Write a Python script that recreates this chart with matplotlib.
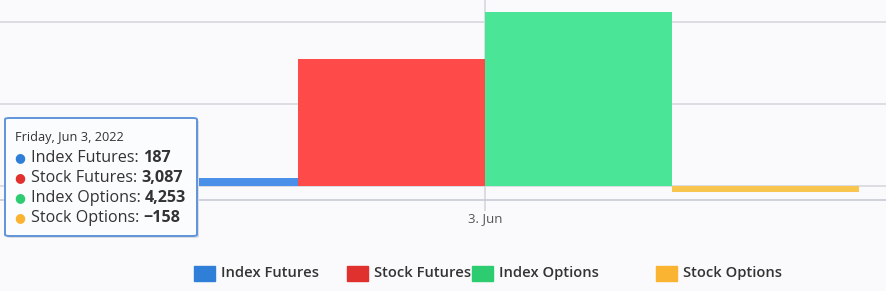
import matplotlib
matplotlib.use("Agg")
import matplotlib.pyplot as plt
from matplotlib.patches import FancyBboxPatch, Rectangle

plt.rcParams['font.family'] = ['Open Sans', 'DejaVu Sans']

series = ['Index Futures', 'Stock Futures', 'Index Options', 'Stock Options']
values = [187, 3087, 4253, -158]
value_labels = ['187', '3,087', '4,253', '\u2212158']
category = '3. Jun'
tooltip_title = 'Friday, Jun 3, 2022'

bar_colors = ['#4a8fe8', '#ff4a4a', '#4be598', '#f8c64e']
legend_colors = ['#2f7ed8', '#e0312f', '#2ecc71', '#fbb332']

W, H = 887, 291
fig = plt.figure(figsize=(W / 100, H / 100), dpi=100)
fig.patch.set_facecolor('#fafafc')

# plot area: full width, top of image down to y=200px
ax = fig.add_axes([0, (H - 200) / H, 1, 200 / H])
ax.set_facecolor('#fafafc')

bw = 1.0
offsets = [-1.5, -0.5, 0.5, 1.5]
for off, v, c in zip(offsets, values, bar_colors):
    ax.bar(off * bw, v, width=bw, color=c, zorder=3, linewidth=0)

# zero at 186px, 2000 per 82px
ppu = 82 / 2000
ax.set_ylim(-(200 - 186) / ppu, 186 / ppu)
ax.set_xlim(-485 / 187, (W - 485) / 187)

for gy in [0, 2000, 4000]:
    ax.axhline(gy, color='#d6d6de', lw=1.2, zorder=1)
ax.axvline(0, color='#d6d6de', lw=1.2, zorder=1)

for s in ['top', 'right', 'left']:
    ax.spines[s].set_visible(False)
ax.spines['bottom'].set_color('#c8ccd8')
ax.spines['bottom'].set_linewidth(1.2)
ax.set_yticks([])
ax.set_xticks([0])
ax.set_xticklabels([category], fontsize=9.5, color='#555555')
ax.tick_params(axis='x', length=8, color='#d6d6de', width=1.2, pad=1)

# legend
leg_x = [194, 347, 472, 656]
for x, name, c in zip(leg_x, series, legend_colors):
    fig.patches.append(Rectangle((x / W, (H - 281) / H), 21 / W, 15 / H,
                                 transform=fig.transFigure, color=c, figure=fig))
    fig.text((x + 27) / W, (H - 273) / H, name, fontsize=10.6, color='#333333',
             fontweight='semibold', va='center', ha='left')

# tooltip
box = FancyBboxPatch((5 / W, (H - 236) / H), 192 / W, 118 / H,
                     boxstyle='round,pad=0,rounding_size=0.005',
                     transform=fig.transFigure, facecolor='#fbfcfe',
                     edgecolor='#5f95d9', linewidth=1.4, zorder=10, figure=fig)
shadow = FancyBboxPatch((7 / W, (H - 238) / H), 192 / W, 118 / H,
                        boxstyle='round,pad=0,rounding_size=0.005',
                        transform=fig.transFigure, facecolor='#dcdce4',
                        edgecolor='none', zorder=9, figure=fig)
fig.patches.append(shadow)
fig.patches.append(box)

fig.text(15 / W, (H - 138) / H, tooltip_title, fontsize=9.2, color='#333333',
         va='center', ha='left', zorder=11)
renderer = fig.canvas.get_renderer()
for i, (name, lab, c) in enumerate(zip(series, value_labels, legend_colors)):
    yy = (H - (158 + 20 * i)) / H
    fig.text(20 / W, yy, '\u25cf', fontsize=9, color=c, va='center',
             ha='center', zorder=11)
    t = fig.text(31 / W, yy, name + ': ', fontsize=11.6, color='#333333',
                 va='center', ha='left', zorder=11)
    bb = t.get_window_extent(renderer)
    fig.text(bb.x1 / W, yy, lab, fontsize=11.6, color='#333333',
             fontweight='bold', va='center', ha='left', zorder=11)

fig.savefig('out.png', dpi=100, facecolor=fig.get_facecolor())
